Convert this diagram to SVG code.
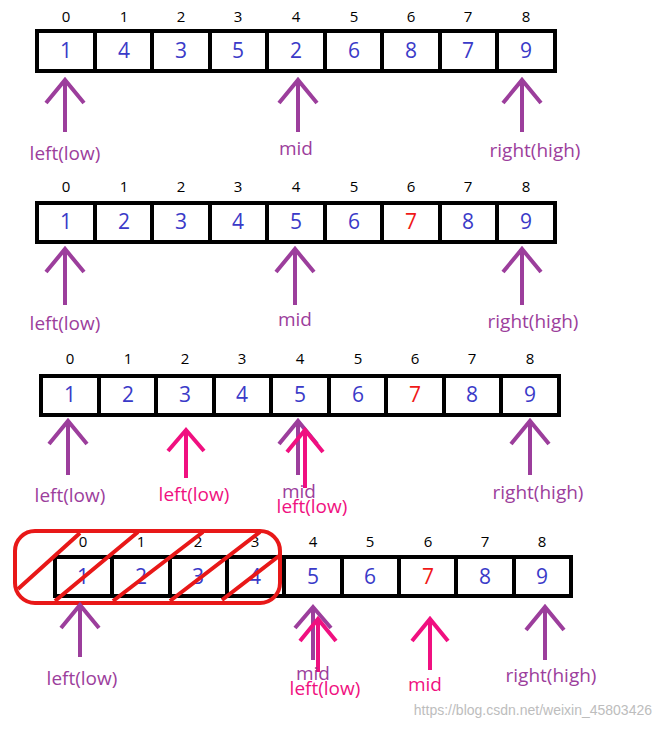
<svg xmlns="http://www.w3.org/2000/svg" width="662" height="729" viewBox="0 0 662 729">
<style>
.cell{fill:#fff;stroke:#000;stroke-width:4}
.n{font-family:"Open Sans","Liberation Sans",sans-serif;font-size:21px;fill:#3a3ac8;text-anchor:middle}
.r{fill:#f01818}
.i{font-family:"Open Sans","Liberation Sans",sans-serif;font-size:15px;fill:#000;text-anchor:middle}
.p{stroke:#9c3e9c;stroke-width:4;fill:none}
.k{stroke:#f01080;stroke-width:4;fill:none}
.lp{font-family:"Open Sans","Liberation Sans",sans-serif;font-size:19px;fill:#9c3e9c;text-anchor:middle}
.lk{font-family:"Open Sans","Liberation Sans",sans-serif;font-size:19px;fill:#f01080;text-anchor:middle}
.x{stroke:#e81818;stroke-width:4;fill:none}
</style>
<g id="array1">
<rect class="cell" x="37" y="31" width="518" height="40"/>
<path d="M95 31V71M152 31V71M210 31V71M267 31V71M325 31V71M382 31V71M440 31V71M497 31V71" stroke="#000" stroke-width="4"/>
<g class="i"><text x="66" y="22">0</text><text x="124" y="22">1</text><text x="181" y="22">2</text><text x="238" y="22">3</text><text x="296" y="22">4</text><text x="354" y="22">5</text><text x="411" y="22">6</text><text x="468" y="22">7</text><text x="526" y="22">8</text></g>
<g class="n"><text x="66" y="58">1</text><text x="124" y="58">4</text><text x="181" y="58">3</text><text x="238" y="58">5</text><text x="296" y="58">2</text><text x="354" y="58">6</text><text x="411" y="58">8</text><text x="468" y="58">7</text><text x="526" y="58">9</text></g>
</g>
<g id="array2">
<rect class="cell" x="37" y="203" width="518" height="39"/>
<path d="M95 203V242M152 203V242M210 203V242M267 203V242M325 203V242M382 203V242M440 203V242M497 203V242" stroke="#000" stroke-width="4"/>
<g class="i"><text x="66" y="192">0</text><text x="124" y="192">1</text><text x="181" y="192">2</text><text x="238" y="192">3</text><text x="296" y="192">4</text><text x="354" y="192">5</text><text x="411" y="192">6</text><text x="468" y="192">7</text><text x="526" y="192">8</text></g>
<g class="n"><text x="66" y="229">1</text><text x="124" y="229">2</text><text x="181" y="229">3</text><text x="238" y="229">4</text><text x="296" y="229">5</text><text x="354" y="229">6</text><text class="r" x="411" y="229">7</text><text x="468" y="229">8</text><text x="526" y="229">9</text></g>
</g>
<g id="array3">
<rect class="cell" x="41" y="376" width="518" height="39"/>
<path d="M99 376V415M156 376V415M214 376V415M271 376V415M329 376V415M386 376V415M444 376V415M501 376V415" stroke="#000" stroke-width="4"/>
<g class="i"><text x="70" y="364">0</text><text x="128" y="364">1</text><text x="185" y="364">2</text><text x="242" y="364">3</text><text x="300" y="364">4</text><text x="358" y="364">5</text><text x="415" y="364">6</text><text x="472" y="364">7</text><text x="530" y="364">8</text></g>
<g class="n"><text x="70" y="402">1</text><text x="128" y="402">2</text><text x="185" y="402">3</text><text x="242" y="402">4</text><text x="300" y="402">5</text><text x="358" y="402">6</text><text class="r" x="415" y="402">7</text><text x="472" y="402">8</text><text x="530" y="402">9</text></g>
</g>
<g id="array4">
<rect class="cell" x="55" y="557" width="516" height="39"/>
<path d="M112 557V596M170 557V596M227 557V596M284 557V596M342 557V596M399 557V596M456 557V596M514 557V596" stroke="#000" stroke-width="4"/>
<g class="i"><text x="83" y="547">0</text><text x="141" y="547">1</text><text x="198" y="547">2</text><text x="255" y="547">3</text><text x="313" y="547">4</text><text x="370" y="547">5</text><text x="428" y="547">6</text><text x="485" y="547">7</text><text x="542" y="547">8</text></g>
<g class="n"><text x="83" y="584">1</text><text x="141" y="584">2</text><text x="198" y="584">3</text><text x="255" y="584">4</text><text x="313" y="584">5</text><text x="370" y="584">6</text><text class="r" x="428" y="584">7</text><text x="485" y="584">8</text><text x="542" y="584">9</text></g>
</g>
<g id="crossout">
<rect class="x" x="15" y="531" width="265" height="72" rx="20"/>
<path class="x" d="M18 589L80 533M55 601L138 532M113 601L203 532M170 601L260 532M222 600L279 556"/>
</g>
<g id="connectors">
<path class="p" d="M65 132V80M46 103L65 80L84 103"/>
<path class="p" d="M298 132V80M279 103L298 80L317 103"/>
<path class="p" d="M522 132V80M503 103L522 80L541 103"/>
<path class="p" d="M65 305V249M46 272L65 249L84 272"/>
<path class="p" d="M295 305V249M276 272L295 249L314 272"/>
<path class="p" d="M522 305V249M503 272L522 249L541 272"/>
<path class="p" d="M68 475V421M49 444L68 421L87 444"/>
<path class="k" d="M186 478V430M168 451L186 430L204 451"/>
<path class="p" d="M298 475V421M279 444L298 421L317 444"/>
<path class="k" d="M305 488V430M287 452L305 430L323 452"/>
<path class="p" d="M530 475V421M511 444L530 421L549 444"/>
<path class="p" d="M80 657V605M61 628L80 605L99 628"/>
<path class="p" d="M313 660V607M295 628L313 607L331 628"/>
<path class="k" d="M318 672V619M300 641L318 619L336 641"/>
<path class="k" d="M430 670V619M412 641L430 619L448 641"/>
<path class="p" d="M545 660V607M526 630L545 607L564 630"/>
</g>
<g id="labels">
<text class="lp" x="65" y="160">left(low)</text>
<text class="lp" x="296" y="155">mid</text>
<text class="lp" x="535" y="157">right(high)</text>
<text class="lp" x="65" y="330">left(low)</text>
<text class="lp" x="295" y="326">mid</text>
<text class="lp" x="533" y="328">right(high)</text>
<text class="lp" x="70" y="502">left(low)</text>
<text class="lk" x="194" y="501">left(low)</text>
<text class="lp" x="299" y="498">mid</text>
<text class="lk" x="312" y="513">left(low)</text>
<text class="lp" x="538" y="499">right(high)</text>
<text class="lp" x="82" y="685">left(low)</text>
<text class="lp" x="313" y="680">mid</text>
<text class="lk" x="325" y="695">left(low)</text>
<text class="lk" x="425" y="691">mid</text>
<text class="lp" x="551" y="682">right(high)</text>
</g>
<text x="652" y="715" font-family="'Liberation Sans',sans-serif" font-size="14" fill="#bdbdbd" text-anchor="end">https://blog.csdn.net/weixin_45803426</text>
</svg>
